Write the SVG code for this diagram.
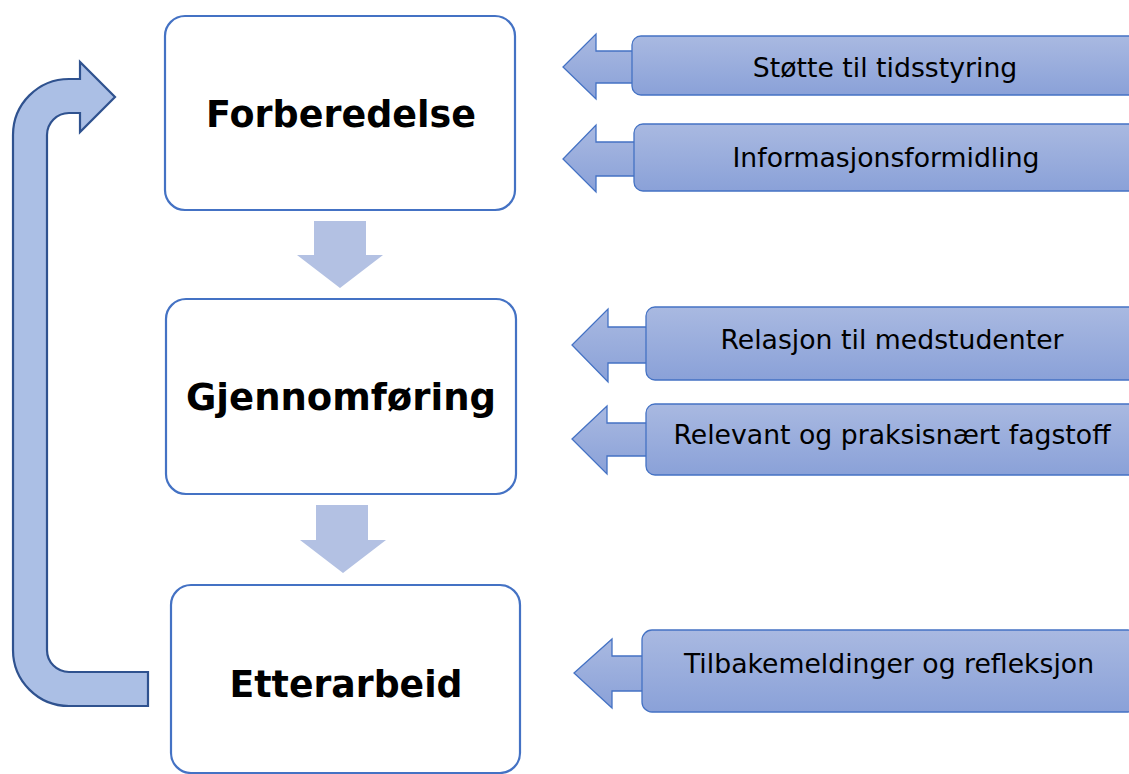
<svg xmlns="http://www.w3.org/2000/svg" width="1129" height="774" viewBox="0 0 1129 774">
<defs>
<linearGradient id="g" x1="0" y1="0" x2="0" y2="1">
<stop offset="0" stop-color="#a9b9e1"/>
<stop offset="1" stop-color="#8aa1d8"/>
</linearGradient>
<style>
.box{fill:#fff;stroke:#4472c4;stroke-width:2.2}
.main{font-family:"DejaVu Sans",Verdana,sans-serif;font-weight:bold;font-size:38px;fill:#000;text-anchor:middle}
.side{fill:url(#g);stroke:#4472c4;stroke-width:1.3}
.lbl{font-family:"DejaVu Sans",Verdana,sans-serif;font-size:26.7px;fill:#000;text-anchor:middle}
.down{fill:#b3c1e3}
.loop{fill:#abbfe5;stroke:#2f528f;stroke-width:2.2;stroke-linejoin:miter}
</style>
</defs>
<rect width="1129" height="774" fill="#fff"/>
<g id="connectors">
<path class="loop" d="M148,672 L69,672 A22,22 0 0 1 47,650 L47,135 A22,22 0 0 1 69,113 L80,113 L80,132 L115,97 L80,62 L80,79 L69,79 A56,56 0 0 0 13,135 L13,650 A56,56 0 0 0 69,706 L148,706 Z"/>
<path class="down" d="M314,221 L366,221 L366,255 L383,255 L340,288 L297,255 L314,255 Z"/>
<path class="down" d="M316,505 L368,505 L368,540 L386,540 L343,573 L300,540 L316,540 Z"/>
</g>
<g id="forberedelse">
<rect class="box" x="165" y="16" width="350" height="194" rx="20"/>
<text class="main" x="341" y="127" textLength="270" lengthAdjust="spacingAndGlyphs">Forberedelse</text>
</g>
<g id="gjennomforing">
<rect class="box" x="166" y="299" width="350" height="195" rx="20"/>
<text class="main" x="341" y="410" textLength="310" lengthAdjust="spacingAndGlyphs">Gjennomføring</text>
</g>
<g id="etterarbeid">
<rect class="box" x="171" y="585" width="349" height="188" rx="20"/>
<text class="main" x="346" y="697" textLength="233" lengthAdjust="spacingAndGlyphs">Etterarbeid</text>
</g>
<g id="side1">
<path class="side" d="M640,51 L596,51 L596,34 L563,67 L596,99 L596,83 L640,83"/>
<rect class="side" x="632" y="36" width="506" height="59" rx="9"/>
<text class="lbl" x="885" y="77">Støtte til tidsstyring</text>
</g>
<g id="side2">
<path class="side" d="M640,142 L596,142 L596,125 L563,159 L596,192 L596,176 L640,176"/>
<rect class="side" x="634" y="124" width="504" height="67" rx="9"/>
<text class="lbl" x="886" y="167">Informasjonsformidling</text>
</g>
<g id="side3">
<path class="side" d="M655,327 L608,327 L608,309 L572,345 L608,382 L608,363 L655,363"/>
<rect class="side" x="646" y="307" width="492" height="73" rx="9"/>
<text class="lbl" x="892" y="349">Relasjon til medstudenter</text>
</g>
<g id="side4">
<path class="side" d="M655,423 L607,423 L607,406 L572,439 L607,474 L607,456 L655,456"/>
<rect class="side" x="646" y="404" width="492" height="71" rx="9"/>
<text class="lbl" x="892" y="444">Relevant og praksisnært fagstoff</text>
</g>
<g id="side5">
<path class="side" d="M650,656 L612,656 L612,639 L574,673 L612,708 L612,691 L650,691"/>
<rect class="side" x="642" y="630" width="496" height="82" rx="10"/>
<text class="lbl" x="889" y="673">Tilbakemeldinger og refleksjon</text>
</g>
</svg>
